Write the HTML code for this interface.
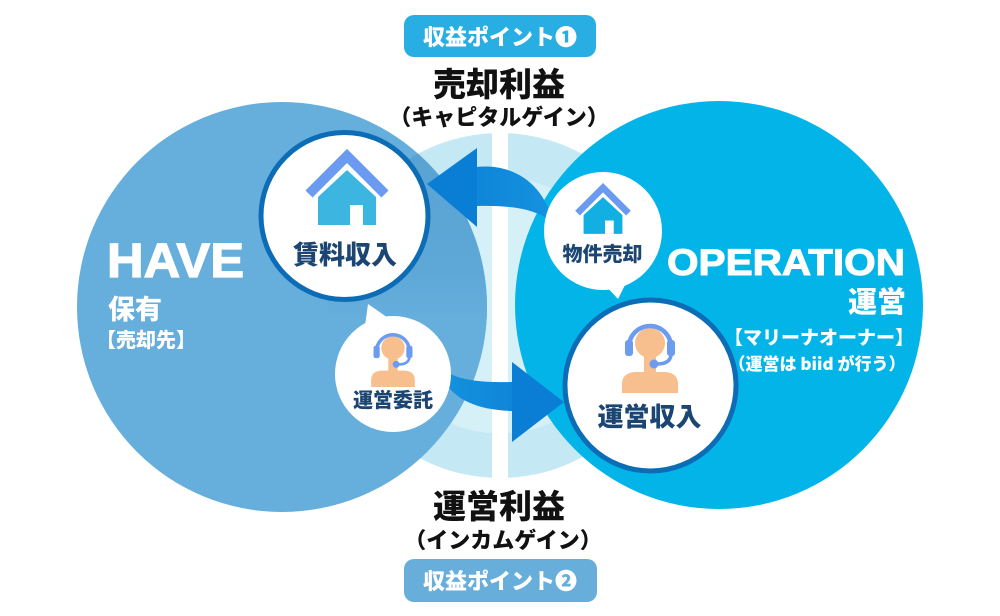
<!DOCTYPE html>
<html>
<head>
<meta charset="utf-8">
<style>
html,body{margin:0;padding:0;background:#fff;}
body{width:1000px;height:616px;overflow:hidden;}
svg{display:block;}
text{font-family:"Liberation Sans","Noto Sans CJK JP",sans-serif;font-weight:700;}
.jp{font-family:"Noto Sans CJK JP","Liberation Sans",sans-serif;font-weight:900;}
</style>
</head>
<body>
<svg width="1000" height="616" viewBox="0 0 1000 616" xmlns="http://www.w3.org/2000/svg">
  <defs>
    <clipPath id="lc"><circle cx="282" cy="307" r="205"/></clipPath>
    <linearGradient id="sh" x1="0" y1="130" x2="0" y2="320" gradientUnits="userSpaceOnUse">
      <stop offset="0" stop-color="#58a2d3"/>
      <stop offset="0.75" stop-color="#5ea8d8"/>
      <stop offset="1" stop-color="#66aedc"/>
    </linearGradient>
    <linearGradient id="ag1" x1="427" y1="0" x2="553" y2="0" gradientUnits="userSpaceOnUse">
      <stop offset="0" stop-color="#0a7ed5"/>
      <stop offset="1" stop-color="#1592df"/>
    </linearGradient>
    <linearGradient id="ag2" x1="437" y1="0" x2="564" y2="0" gradientUnits="userSpaceOnUse">
      <stop offset="0" stop-color="#1592df"/>
      <stop offset="1" stop-color="#0a7ed5"/>
    </linearGradient>
  </defs>

  <!-- center background rings -->
  <circle cx="500" cy="305.5" r="172.5" fill="#c5e9f4"/>
  <circle cx="500" cy="305.5" r="128" fill="#d6f0f8"/>
  <rect x="492" y="128" width="16" height="356" fill="#ffffff"/>

  <!-- big circles -->
  <circle cx="282" cy="307" r="205" fill="#66aedc"/>
  <circle cx="500" cy="305.5" r="172.5" fill="url(#sh)" clip-path="url(#lc)"/>
  <circle cx="719" cy="305" r="204" fill="#03b4e8"/>

  <!-- arrows -->
  <path d="M476,167 C515,163 545,185 553,224 C540,210 515,205 476,206 Z" fill="url(#ag1)"/>
  <path d="M477,148 L427,184 L477,227 Z" fill="#0a7ed5"/>
  <path d="M437,364 C450,378 470,383 513,382 L513,411 C470,410 445,395 437,364 Z" fill="url(#ag2)"/>
  <path d="M512,362 L564,402 L512,442 Z" fill="#0a7ed5"/>

  <!-- 賃料収入 -->
  <circle cx="344.5" cy="216" r="83.5" fill="#ffffff" stroke="#0d6cb6" stroke-width="5"/>
  <g transform="translate(347,149)">
    <polyline points="-38,45 0,7 38,45" fill="none" stroke="#6b9bf1" stroke-width="10" stroke-miterlimit="10"/>
    <path d="M0,21 L29,48 L29,76 L-29,76 L-29,48 Z" fill="#3cb5e0"/>
    <rect x="3" y="56" width="13" height="20" fill="#ffffff"/>
  </g>
  <text class="jp" x="345" y="264" font-size="26" text-anchor="middle" fill="#1b4673">賃料収入</text>

  <!-- 運営委託 bubble -->
  <path d="M368,304 L365,326 L391,320 Z" fill="#ffffff"/>
  <circle cx="393" cy="374" r="58" fill="#ffffff"/>
  <g transform="translate(393,348) scale(0.78)">
    <circle cx="0" cy="0" r="15" fill="#f8bf8e"/>
    <rect x="-6" y="10" width="12" height="20" fill="#f8bf8e"/>
    <path d="M-28,50 L-28,41 Q-28,30 -15,29 L15,29 Q28,30 28,41 L28,50 Z" fill="#f8bf8e"/>
    <path d="M-21,4 A21,21 0 0 1 21,4" fill="none" stroke="#6c9cf0" stroke-width="4.5"/>
    <rect x="-25" y="-3" width="8" height="16" rx="3" fill="#6c9cf0"/>
    <rect x="17" y="-3" width="8" height="16" rx="3" fill="#6c9cf0"/>
    <path d="M21,12 Q20,21 7,21" fill="none" stroke="#6c9cf0" stroke-width="3.5"/>
    <circle cx="4" cy="21" r="4.5" fill="#6c9cf0"/>
  </g>
  <text class="jp" x="393" y="407" font-size="20" text-anchor="middle" fill="#1b4673">運営委託</text>

  <!-- 物件売却 bubble -->
  <path d="M603,283 L626,283 L618,299 Z" fill="#ffffff"/>
  <circle cx="603" cy="231" r="59" fill="#ffffff"/>
  <g transform="translate(603,183) scale(0.67)">
    <polyline points="-38,45 0,7 38,45" fill="none" stroke="#6b9bf1" stroke-width="10" stroke-miterlimit="10"/>
    <path d="M0,21 L29,48 L29,76 L-29,76 L-29,48 Z" fill="#12afe3"/>
    <rect x="3" y="56" width="13" height="20" fill="#ffffff"/>
  </g>
  <text class="jp" x="602.5" y="261" font-size="20" text-anchor="middle" fill="#1b4673">物件売却</text>

  <!-- 運営収入 -->
  <circle cx="650.5" cy="385.5" r="85.5" fill="#ffffff" stroke="#0d6cb6" stroke-width="5"/>
  <g transform="translate(650,343)">
    <circle cx="0" cy="0" r="15" fill="#f8bf8e"/>
    <rect x="-6" y="10" width="12" height="20" fill="#f8bf8e"/>
    <path d="M-28,50 L-28,41 Q-28,30 -15,29 L15,29 Q28,30 28,41 L28,50 Z" fill="#f8bf8e"/>
    <path d="M-21,4 A21,21 0 0 1 21,4" fill="none" stroke="#6c9cf0" stroke-width="4.5"/>
    <rect x="-25" y="-3" width="8" height="16" rx="3" fill="#6c9cf0"/>
    <rect x="17" y="-3" width="8" height="16" rx="3" fill="#6c9cf0"/>
    <path d="M21,12 Q20,21 7,21" fill="none" stroke="#6c9cf0" stroke-width="3.5"/>
    <circle cx="4" cy="21" r="4.5" fill="#6c9cf0"/>
  </g>
  <text class="jp" x="649.5" y="426" font-size="26" text-anchor="middle" fill="#1b4673">運営収入</text>

  <!-- HAVE side text -->
  <text x="107" y="277" font-size="48" font-weight="900" fill="#ffffff" stroke="#ffffff" stroke-width="1.2" textLength="137" lengthAdjust="spacingAndGlyphs">HAVE</text>
  <text class="jp" x="108" y="319" font-size="27" fill="#ffffff">保有</text>
  <text class="jp" x="146" y="347" font-size="20" text-anchor="middle" fill="#ffffff">【売却先】</text>

  <!-- OPERATION side text -->
  <text x="667" y="275" font-size="37" font-weight="900" fill="#ffffff" stroke="#ffffff" stroke-width="1" textLength="238" lengthAdjust="spacingAndGlyphs">OPERATION</text>
  <text class="jp" x="906" y="312" font-size="29" text-anchor="end" fill="#ffffff">運営</text>
  <text class="jp" x="819" y="344" font-size="19" text-anchor="middle" fill="#ffffff">【マリーナオーナー】</text>
  <text class="jp" x="817" y="370" font-size="17" text-anchor="middle" fill="#ffffff">（運営は biid が行う）</text>

  <!-- top labels -->
  <rect x="404" y="15" width="192" height="42" rx="10" fill="#29aee3"/>
  <text class="jp" x="500" y="45" font-size="22" text-anchor="middle" fill="#ffffff">収益ポイント❶</text>
  <text class="jp" x="499" y="96" font-size="33" text-anchor="middle" fill="#111111">売却利益</text>
  <text class="jp" x="499" y="125" font-size="22" text-anchor="middle" fill="#111111">（キャピタルゲイン）</text>

  <!-- bottom labels -->
  <text class="jp" x="499" y="518" font-size="33" text-anchor="middle" fill="#111111">運営利益</text>
  <text class="jp" x="503" y="548" font-size="22" text-anchor="middle" fill="#111111">（インカムゲイン）</text>
  <rect x="404" y="559" width="193" height="43" rx="10" fill="#68aedb"/>
  <text class="jp" x="500" y="589" font-size="22" text-anchor="middle" fill="#ffffff">収益ポイント❷</text>
</svg>
</body>
</html>
